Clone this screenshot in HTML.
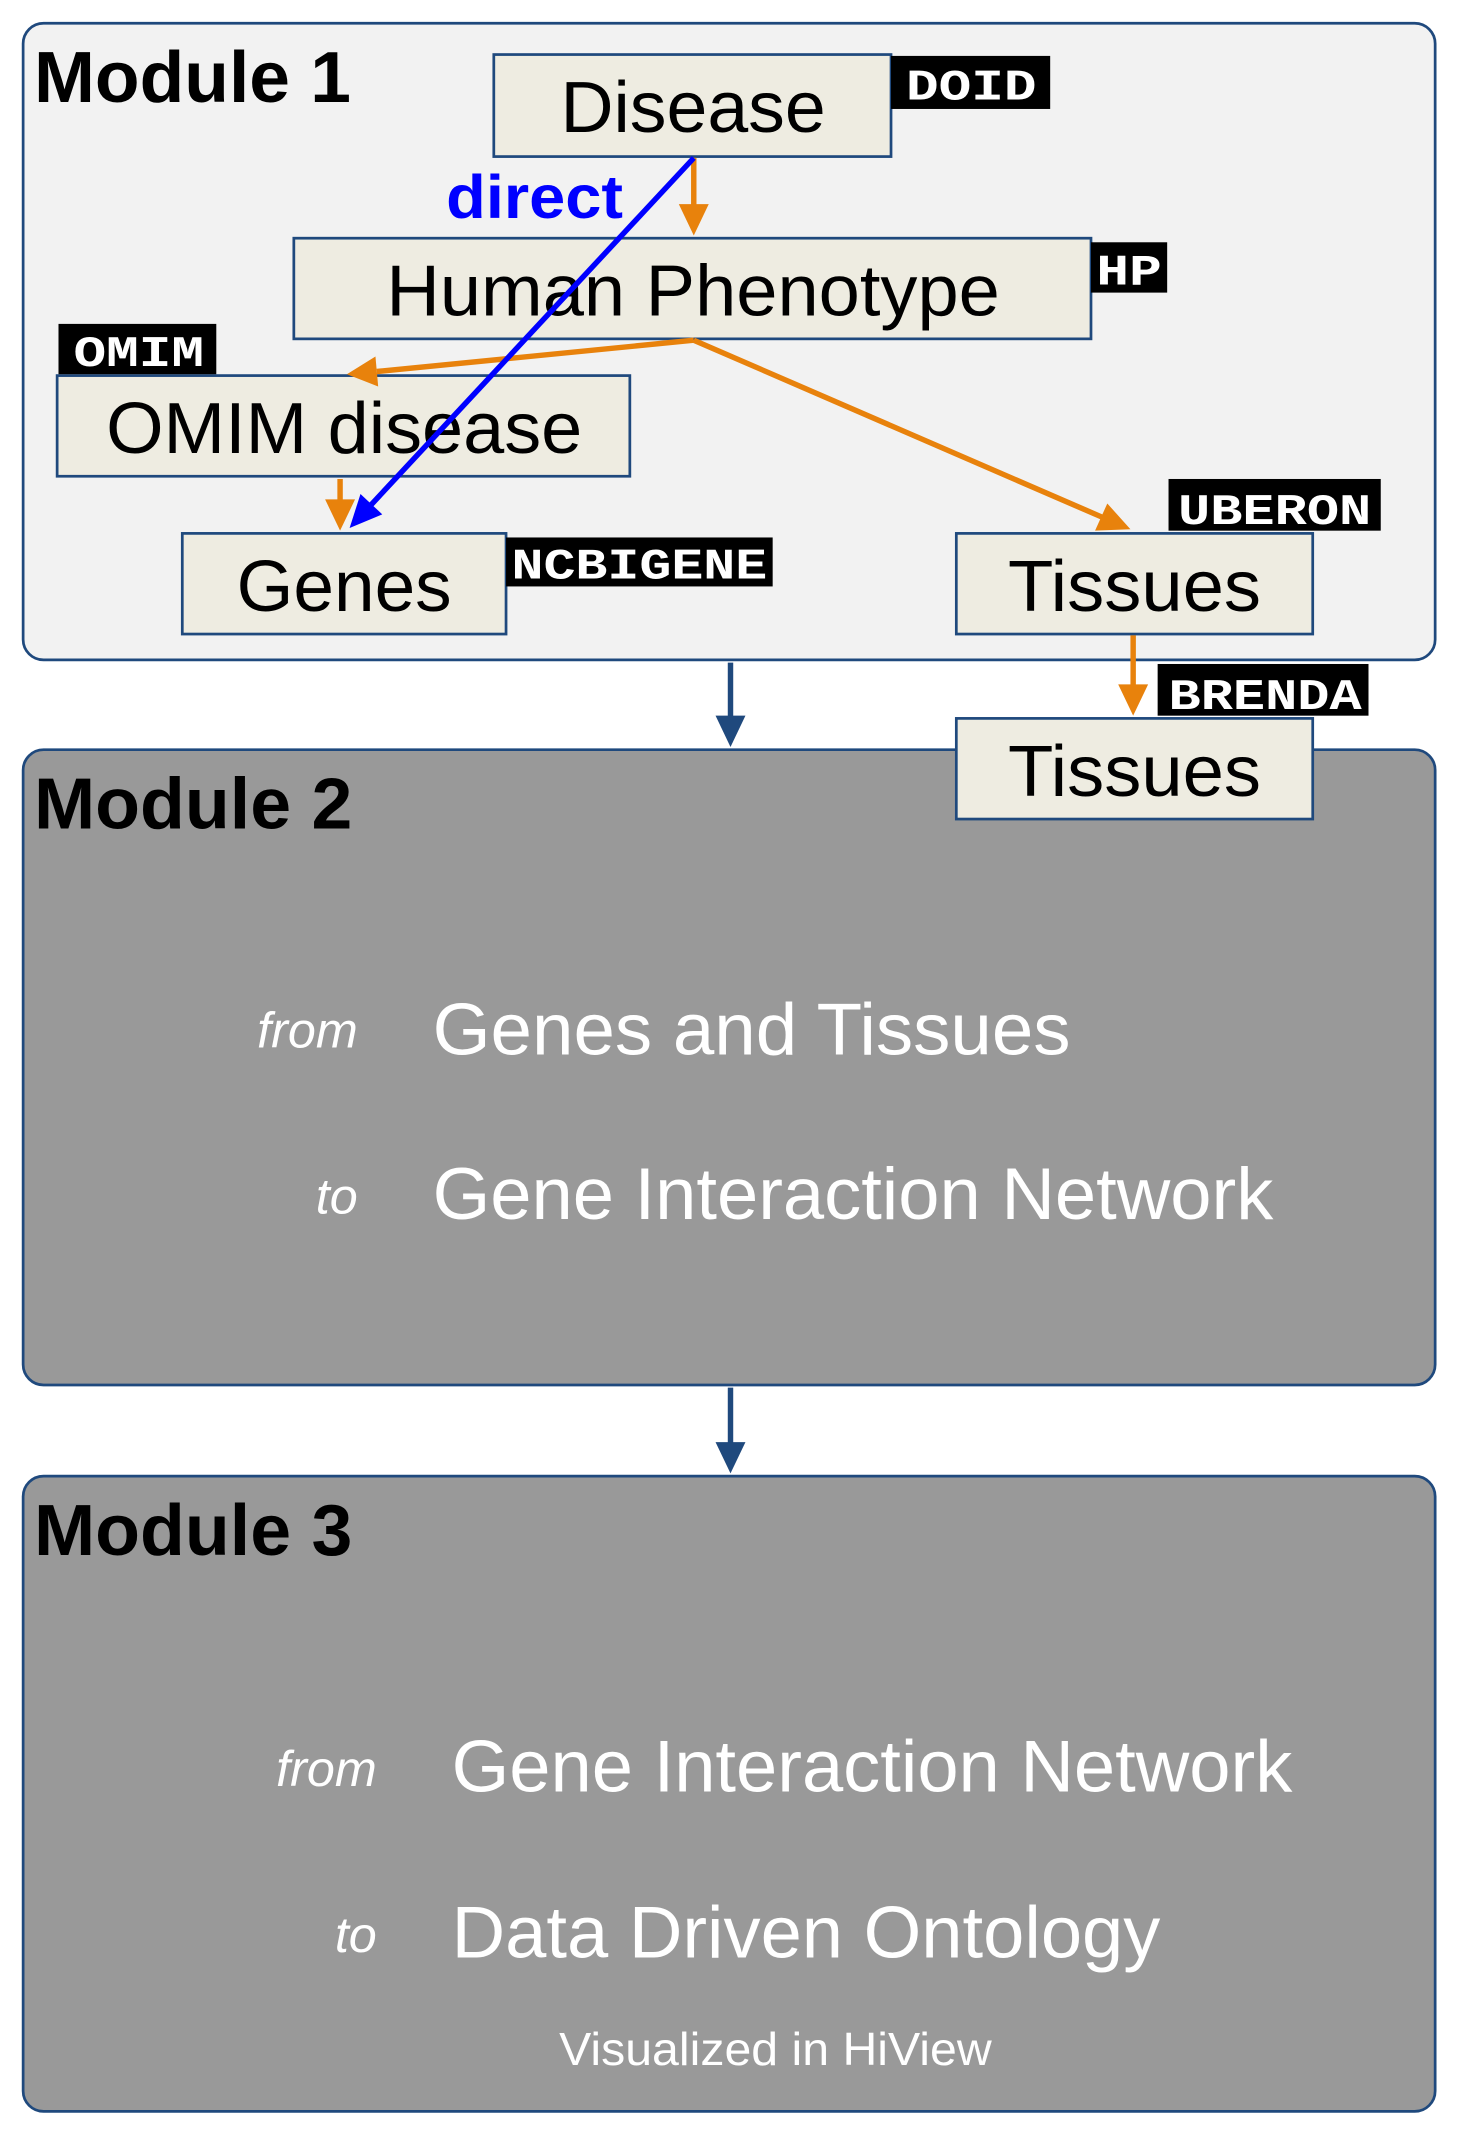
<!DOCTYPE html>
<html><head><meta charset="utf-8"><style>html,body{margin:0;padding:0;background:#fff}svg{display:block}</style></head>
<body>
<svg width="1461" height="2136" viewBox="0 0 1074 1570" xmlns="http://www.w3.org/2000/svg" font-family="Liberation Sans, sans-serif">
<rect x="17" y="17" width="1038" height="468" rx="15" fill="#f2f2f2" stroke="#1f497d" stroke-width="2"/>
<rect x="17" y="551" width="1038" height="467" rx="15" fill="#999999" stroke="#1f497d" stroke-width="2"/>
<rect x="17" y="1085" width="1038" height="467" rx="15" fill="#999999" stroke="#1f497d" stroke-width="2"/>
<g stroke="#1f497d" stroke-width="4"><line x1="537" y1="487" x2="537" y2="528"/><line x1="537" y1="1020" x2="537" y2="1062"/></g>
<g fill="#1f497d"><polygon points="526,526 548,526 537,549"/><polygon points="526,1060 548,1060 537,1083"/></g>
<g font-weight="bold" font-size="53" fill="#000">
<text x="25" y="75" textLength="233" lengthAdjust="spacingAndGlyphs">Module 1</text><text x="25" y="609" textLength="234" lengthAdjust="spacingAndGlyphs">Module 2</text><text x="25" y="1143" textLength="234" lengthAdjust="spacingAndGlyphs">Module 3</text></g>
<g fill="#eeece1" stroke="#1f497d" stroke-width="2">
<rect x="363" y="40" width="292" height="75"/>
<rect x="216" y="175" width="586" height="74"/>
<rect x="42" y="276" width="421" height="74"/>
<rect x="134" y="392" width="238" height="74"/>
<rect x="703" y="392" width="262" height="74"/>
<rect x="703" y="528" width="262" height="74"/></g>
<g font-size="53" fill="#000" lengthAdjust="spacingAndGlyphs">
<text x="412" y="97" textLength="195" lengthAdjust="spacingAndGlyphs">Disease</text><text x="284" y="232" textLength="451" lengthAdjust="spacingAndGlyphs">Human Phenotype</text>
<text x="78" y="333" textLength="350" lengthAdjust="spacingAndGlyphs">OMIM disease</text><text x="174" y="449" textLength="158" lengthAdjust="spacingAndGlyphs">Genes</text>
<text x="741" y="449" textLength="186" lengthAdjust="spacingAndGlyphs">Tissues</text><text x="741" y="585" textLength="186" lengthAdjust="spacingAndGlyphs">Tissues</text></g>
<g fill="#000"><rect x="655" y="41" width="117" height="39"/><rect x="802" y="178" width="56" height="37"/><rect x="43" y="238" width="116" height="37"/><rect x="372" y="395" width="196" height="36"/><rect x="859" y="352" width="156" height="38"/><rect x="851" y="488" width="155" height="38"/></g>
<g fill="#fff" font-family="Liberation Mono, monospace" font-weight="bold" font-size="32">
<text x="666" y="73" textLength="96" lengthAdjust="spacingAndGlyphs">DOID</text><text x="806" y="209" textLength="48" lengthAdjust="spacingAndGlyphs">HP</text><text x="54" y="269" textLength="96" lengthAdjust="spacingAndGlyphs">OMIM</text><text x="376" y="425" textLength="188" lengthAdjust="spacingAndGlyphs">NCBIGENE</text><text x="866" y="385" textLength="142" lengthAdjust="spacingAndGlyphs">UBERON</text><text x="859" y="521" textLength="142" lengthAdjust="spacingAndGlyphs">BRENDA</text></g>
<text x="328" y="160" font-size="45" font-weight="bold" fill="#0000ff" textLength="130" lengthAdjust="spacingAndGlyphs">direct</text>
<g stroke="#e8820c" stroke-width="4" fill="none">
<line x1="510" y1="116" x2="510" y2="152"/>
<line x1="510" y1="250" x2="277" y2="273"/>
<line x1="510" y1="250" x2="810" y2="380"/>
<line x1="250" y1="352" x2="250" y2="369"/>
<line x1="833" y1="467" x2="833" y2="505"/></g>
<g fill="#e8820c">
<polygon points="499,150 521,150 510,173"/>
<polygon points="278,284 276,262 255,275"/>
<polygon points="805,390 814,370 831,389"/>
<polygon points="239,367 261,367 250,390"/>
<polygon points="822,503 844,503 833,526"/></g>
<line x1="510" y1="116" x2="270" y2="374" stroke="#0000ff" stroke-width="4"/>
<polygon points="281,378 265,363 257,388" fill="#0000ff"/>
<g fill="#fff">
<text x="263" y="770" font-size="37" font-style="italic" text-anchor="end">from</text>
<text x="318" y="775" font-size="54" textLength="469" lengthAdjust="spacingAndGlyphs">Genes and Tissues</text>
<text x="263" y="892" font-size="37" font-style="italic" text-anchor="end">to</text>
<text x="318" y="896" font-size="54" textLength="618" lengthAdjust="spacingAndGlyphs">Gene Interaction Network</text>
<text x="277" y="1313" font-size="37" font-style="italic" text-anchor="end">from</text>
<text x="332" y="1317" font-size="54" textLength="618" lengthAdjust="spacingAndGlyphs">Gene Interaction Network</text>
<text x="277" y="1435" font-size="37" font-style="italic" text-anchor="end">to</text>
<text x="332" y="1439" font-size="54" textLength="521" lengthAdjust="spacingAndGlyphs">Data Driven Ontology</text>
<text x="570" y="1518" font-size="34" text-anchor="middle" textLength="318" lengthAdjust="spacingAndGlyphs">Visualized in HiView</text></g>
</svg>
</body></html>
